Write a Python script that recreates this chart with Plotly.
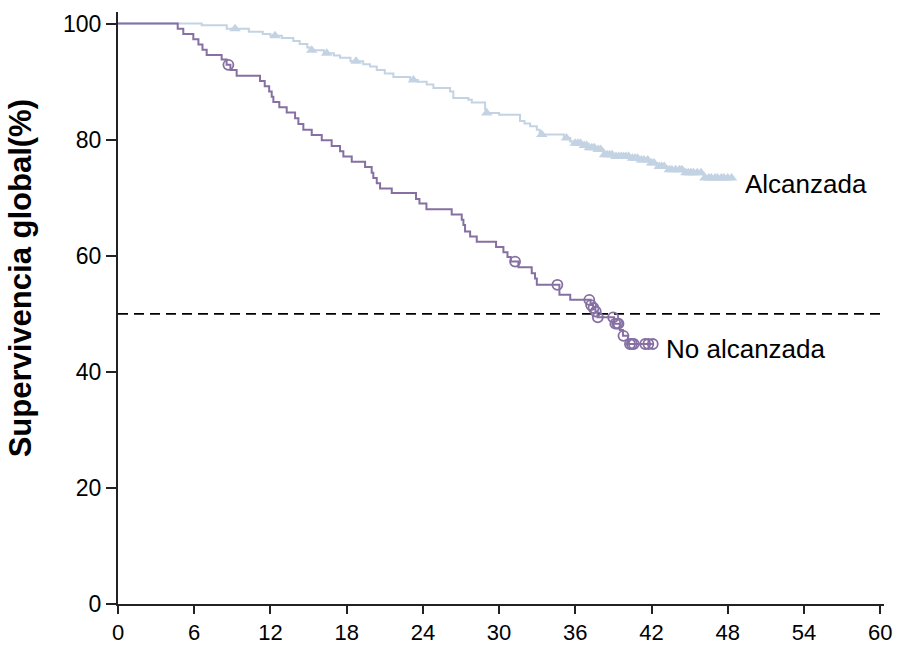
import numpy as np
import plotly.graph_objects as go

# ---------------- data ----------------
# "No alcanzada" Kaplan-Meier step curve (months, survival %)
no_t = [0, 4.70, 5.14, 5.93, 6.33, 6.65, 6.98, 8.16, 8.55, 8.85, 9.34, 11.18, 11.55, 11.9,
        12.1, 12.23, 12.7, 13.28, 13.94, 14.2, 14.59, 15.25, 16.04, 16.82, 17.48, 17.74,
        18.40, 19.45, 19.97, 20.1, 20.37, 20.63, 21.55, 23.46, 23.73, 24.28, 26.27, 27.06,
        27.19, 27.32, 27.72, 28.24, 29.76, 30.34, 30.66, 30.92, 31.52, 32.57, 32.83, 32.97,
        34.75, 35.6, 37.2, 37.4, 37.58, 37.75, 39.05, 39.5, 39.75, 40.15, 42.1]
no_s = [100, 99.1, 98.2, 97.3, 96.4, 95.5, 94.6, 93.8, 92.9, 92.0, 91.0, 90.1, 89.2, 88.3,
        87.4, 86.5, 85.6, 84.7, 83.7, 82.7, 81.7, 80.8, 79.9, 78.9, 78.0, 77.1,
        76.2, 75.3, 74.3, 73.4, 72.5, 71.6, 70.8, 69.8, 69.0, 68.0, 67.1, 66.2,
        65.3, 64.2, 63.3, 62.4, 61.5, 60.6, 59.8, 59.0, 58.0, 57.0, 56.1, 55.0,
        53.3, 52.4, 51.5, 51.0, 50.4, 49.4, 48.3, 47.2, 46.2, 44.8, 44.8]
no_censor = [8.69, 31.26, 34.59, 37.1, 37.24, 37.43, 37.61, 37.77, 38.98, 39.15, 39.3, 39.4,
             39.79, 40.3, 40.45, 40.6, 41.5, 41.75, 42.1]

# "Alcanzada" Kaplan-Meier step curve
al_t = [0, 6.59, 8.56, 10.3, 11.4, 12.0, 12.9, 13.8, 14.3, 14.9, 15.1, 16.2, 17.0, 17.48,
        18.3, 19.3, 19.84, 20.37, 21.0, 21.68, 23.0, 23.6, 24.3, 24.83, 26.14, 26.4, 27.58,
        27.85, 28.9, 29.0, 30.0, 31.65, 32.0, 32.44, 32.97, 33.2, 33.36, 35.1, 35.6, 35.9,
        36.6, 37.03, 37.69, 38.2, 39.0, 40.3, 41.1, 41.9, 42.4, 43.2, 44.5, 46.1, 48.4]
al_s = [100, 99.7, 99.1, 98.6, 98.2, 97.9, 97.5, 97.0, 96.5, 95.9, 95.4, 94.9, 94.5, 94.1,
        93.5, 93.0, 92.6, 92.0, 91.4, 90.8, 90.3, 90.0, 89.5, 88.9, 88.3, 87.2, 86.9,
        86.4, 85.2, 84.6, 84.3, 83.2, 82.8, 82.3, 81.7, 81.2, 80.9, 80.3, 79.7, 79.4,
        79.0, 78.6, 78.3, 77.4, 77.1, 76.8, 76.5, 76.0, 75.4, 74.8, 74.3, 73.4, 73.4]
al_censor = [9.22, 12.36, 15.25, 16.43, 18.74, 23.25, 29.03, 33.36, 35.3, 35.98, 36.2, 36.4,
             36.7, 36.9, 37.1, 37.3, 37.5, 37.8, 38.0, 38.3, 38.5, 38.7, 38.9, 39.2, 39.4,
             39.6, 39.8, 40.0, 40.2, 40.5, 40.7, 40.9, 41.2, 41.4, 41.7, 42.0, 42.2, 42.6,
             42.8, 43.0, 43.4, 43.6, 43.9, 44.2, 44.4, 44.7, 44.9, 45.1, 45.3, 45.6, 45.9,
             46.2, 46.5, 46.7, 47.0, 47.2, 47.5, 47.7, 48.0, 48.3]

x_ticks = [0, 6, 12, 18, 24, 30, 36, 42, 48, 54, 60]
y_ticks = [0, 20, 40, 60, 80, 100]
median_line = 50
labels = ["Alcanzada", "No alcanzada"]
y_title = "Supervivencia global(%)"

PURPLE = "#8670a3"
LIGHT = "#c3d3e3"
FONT = "Liberation Sans, Arial, sans-serif"


def step_value(ts, ss, t):
    idx = np.searchsorted(np.asarray(ts), t, side="right") - 1
    return np.asarray(ss)[idx]


fig = go.Figure()

# median reference line
fig.add_trace(go.Scatter(x=[0, 60.3], y=[median_line, median_line], mode="lines",
                         line=dict(color="black", width=1.8, dash="10px,6px"),
                         hoverinfo="skip", showlegend=False))

# Alcanzada
fig.add_trace(go.Scatter(x=al_t, y=al_s, mode="lines", line=dict(color=LIGHT, width=2, shape="hv"),
                         name=labels[0], showlegend=False))
fig.add_trace(go.Scatter(x=al_censor, y=step_value(al_t, al_s, al_censor), mode="markers",
                         marker=dict(symbol="triangle-up", size=10, color=LIGHT, line=dict(width=0)),
                         showlegend=False, hoverinfo="skip"))

# No alcanzada
fig.add_trace(go.Scatter(x=no_t, y=no_s, mode="lines", line=dict(color=PURPLE, width=2, shape="hv"),
                         name=labels[1], showlegend=False))
fig.add_trace(go.Scatter(x=no_censor, y=step_value(no_t, no_s, no_censor), mode="markers",
                         marker=dict(symbol="circle-open", size=10, color=PURPLE, line=dict(width=1.8)),
                         showlegend=False, hoverinfo="skip"))

fig.add_annotation(x=49.2, y=72.4, text=labels[0], showarrow=False, xanchor="left", yanchor="middle",
                   font=dict(family=FONT, size=26, color="black"))
fig.add_annotation(x=43.0, y=44.0, text=labels[1], showarrow=False, xanchor="left", yanchor="middle",
                   font=dict(family=FONT, size=26, color="black"))
fig.add_annotation(xref="paper", yref="paper", x=-0.128, y=0.55, text=y_title, textangle=-90,
                   showarrow=False, xanchor="center", yanchor="middle",
                   font=dict(family=FONT, size=31, color="black", weight="bold"))

axis_common = dict(showgrid=False, zeroline=False, showline=True, linecolor="#222222", linewidth=2,
                   ticks="outside", tickwidth=2, tickcolor="#222222")

fig.update_layout(
    width=897, height=646,
    margin=dict(l=118, r=13, t=12, b=42, autoexpand=False),
    paper_bgcolor="white", plot_bgcolor="white",
    xaxis=dict(range=[0, 60.3], tickvals=x_ticks, ticktext=[str(v) for v in x_ticks],
               automargin=False, ticklen=8, tickfont=dict(family=FONT, size=22, color="black"),
               **axis_common),
    yaxis=dict(range=[0, 102], tickvals=y_ticks, ticktext=[str(v) for v in y_ticks],
               automargin=False, ticklen=10, tickfont=dict(family=FONT, size=23, color="black"),
               **axis_common),
    showlegend=False,
)

fig.write_html("out.html", config={"displayModeBar": False},
               post_script="document.body.style.margin='0';document.body.style.overflow='hidden';")
